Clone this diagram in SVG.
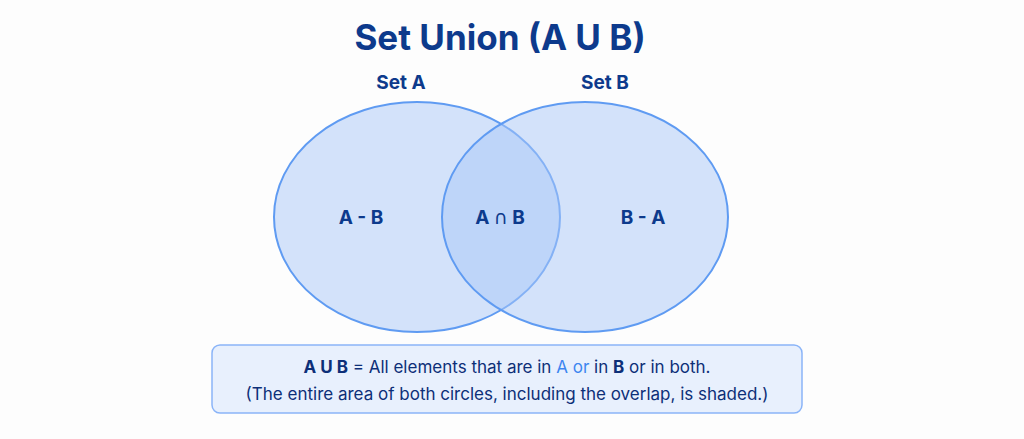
<svg xmlns="http://www.w3.org/2000/svg" width="1024" height="439" viewBox="0 0 1024 439">
<style>
.t{font-family:Inter,"Noto Sans",sans-serif;fill:#0d3a8c;font-weight:bold}
.c{fill:#a9c8f8;fill-opacity:0.5;stroke:#5f9bf2;stroke-width:2}
.n{font-family:Inter,"Noto Sans",sans-serif;fill:#0d2f78;font-size:17px}
</style>
<rect width="1024" height="439" fill="#fdfdfd"/>
<text class="t" x="500" y="50" font-size="35" text-anchor="middle">Set Union (A U B)</text>
<g id="setA"><ellipse class="c" cx="417" cy="217" rx="143" ry="115"/>
<text class="t" x="401" y="89" font-size="19" text-anchor="middle">Set A</text>
<text class="t" x="361" y="224" font-size="19" text-anchor="middle">A - B</text></g>
<g id="setB"><ellipse class="c" cx="585" cy="217" rx="143" ry="115"/>
<text class="t" x="605" y="89" font-size="19" text-anchor="middle">Set B</text>
<text class="t" x="643" y="224" font-size="19" text-anchor="middle">B - A</text></g>
<g id="intersection"><text class="t" x="500" y="224" font-size="19" text-anchor="middle">A <tspan font-family="'Noto Sans','DejaVu Sans',sans-serif" font-weight="normal">∩</tspan> B</text></g>
<g id="note">
<rect x="212" y="345" width="590" height="68" rx="8" fill="#e8f0fd" stroke="#8ab4f8" stroke-width="1.5"/>
<text class="n" x="507" y="373" text-anchor="middle"><tspan font-weight="bold">A U B</tspan> = All elements that are in <tspan fill="#3d86f0">A or</tspan> in <tspan font-weight="bold">B</tspan> or in both.</text>
<text class="n" x="507" y="400" font-size="16" text-anchor="middle">(The entire area of both circles, including the overlap, is shaded.)</text>
</g>
<g id="connectors"/>
</svg>
